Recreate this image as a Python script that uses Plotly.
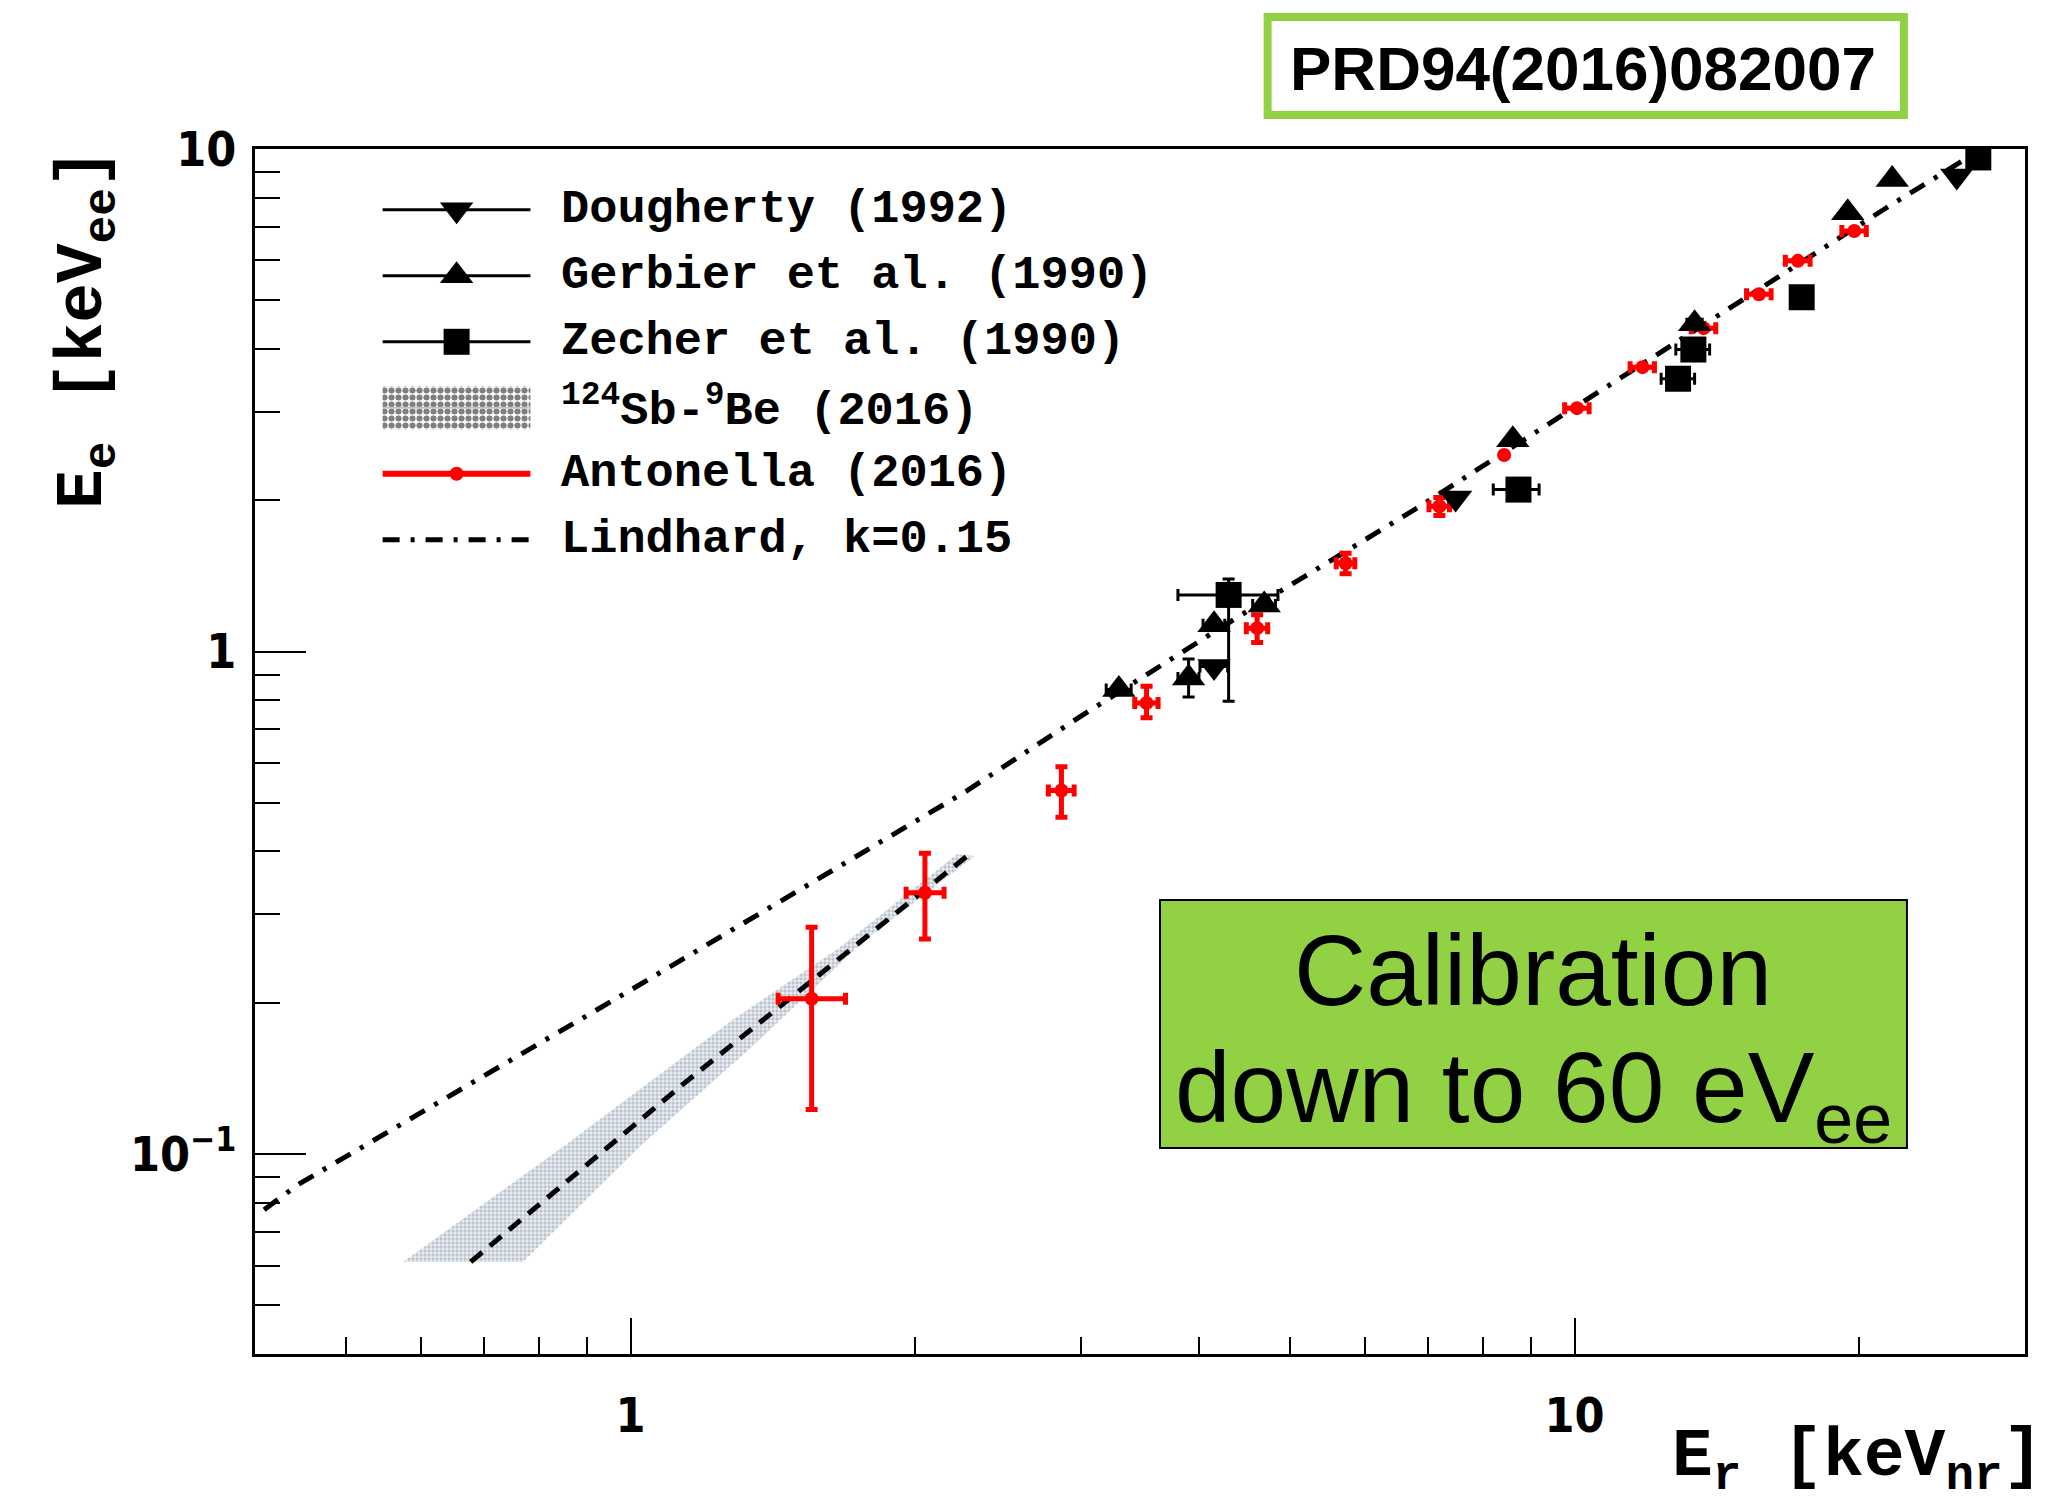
import plotly.graph_objects as go
import math

# ---------------- data ----------------
# Dougherty (1992)  - down triangles
dou_x = [4.15, 7.48, 25.4]
dou_y = [0.934, 2.02, 8.84]
dou_xerr = [0.14, 0.0, 0.0]

# Gerbier et al. (1990) - up triangles
ger_x = [3.29, 3.90, 4.15, 4.69, 8.6, 13.4, 19.47, 21.7]
ger_y = [0.840, 0.886, 1.13, 1.238, 2.64, 4.49, 7.47, 8.70]
ger_xerr = [0.10, 0.10, 0.11, 0.13, 0.0, 0.25, 0.0, 0.0]
ger_yerr_plus = [0.0, 0.080, 0.0, 0.0, 0.0, 0.0, 0.0, 0.0]
ger_yerr_minus = [0.0, 0.074, 0.0, 0.0, 0.0, 0.0, 0.0, 0.0]

# Zecher et al. (1990) - squares
zec_x = [4.30, 8.72, 12.87, 13.36, 17.4, 26.77]
zec_y = [1.296, 2.10, 3.49, 3.99, 5.07, 9.62]
zec_xerr_plus = [0.55, 0.45, 0.53, 0.54, 0.0, 0.0]
zec_xerr_minus = [0.50, 0.52, 0.52, 0.56, 0.0, 0.0]
zec_yerr_plus = [0.098, 0.0, 0.0, 0.0, 0.0, 0.0]
zec_yerr_minus = [0.50, 0.0, 0.0, 0.0, 0.0, 0.0]

# Antonella (2016) - red points
ant_x = [1.555, 2.05, 2.86, 3.52, 4.61, 5.72, 7.19, 8.42, 10.06, 11.8, 13.7, 15.68, 17.24, 19.78]
ant_y = [0.2037, 0.331, 0.529, 0.790, 1.113, 1.498, 1.946, 2.46, 3.05, 3.68, 4.40, 5.14, 5.99, 6.87]
ant_xerr_plus = [0.134, 0.098, 0.09, 0.10, 0.12, 0.13, 0.18, 0.0, 0.30, 0.35, 0.41, 0.47, 0.52, 0.59]
ant_xerr_minus = [0.122, 0.092, 0.09, 0.10, 0.12, 0.13, 0.18, 0.0, 0.30, 0.35, 0.41, 0.47, 0.52, 0.59]
ant_yerr_plus = [0.079, 0.066, 0.061, 0.063, 0.070, 0.07, 0.08, 0.0, 0.0, 0.0, 0.0, 0.0, 0.0, 0.0]
ant_yerr_minus = [0.081, 0.063, 0.061, 0.052, 0.071, 0.07, 0.08, 0.0, 0.0, 0.0, 0.0, 0.0, 0.0, 0.0]

# Lindhard, k=0.15 curve
lin_x = [0.409, 0.445, 1.0, 2.27, 2.96, 4.38, 6.80, 9.51, 21.4, 27.0]
lin_y = [0.0775, 0.0871, 0.212, 0.528, 0.732, 1.166, 1.926, 2.88, 7.64, 10.0]

# 124Sb-9Be (2016) band: upper/left edge, lower/right edge and central line
band_up_x = [0.574, 0.850, 1.281, 1.664, 2.217]
band_up_y = [0.061, 0.1037, 0.1846, 0.2573, 0.395]
band_lo_x = [0.769, 1.024, 1.33, 1.771, 2.315]
band_lo_y = [0.061, 0.1037, 0.1605, 0.2666, 0.392]
cen_x = [0.677, 1.146, 2.273]
cen_y = [0.061, 0.1395, 0.392]

# axis ranges and ticks
x_range = [0.4, 30.0]
y_range = [0.04, 10.0]
x_tickvals = [1, 10]
x_ticktext = ["1", "10"]
x_minor = [0.5, 0.6, 0.7, 0.8, 0.9, 2, 3, 4, 5, 6, 7, 8, 9, 20]
y_tickvals = [0.1, 1, 10]
y_ticktext = ["10<sup>\u22121</sup>", "1", "10"]
y_minor = [0.05, 0.06, 0.07, 0.08, 0.09, 0.2, 0.3, 0.4, 0.5, 0.6, 0.7, 0.8, 0.9,
           2, 3, 4, 5, 6, 7, 8, 9]

legend_labels = ["Dougherty (1992)", "Gerbier et al. (1990)", "Zecher et al. (1990)",
                 "<sup>124</sup>Sb-<sup>9</sup>Be (2016)", "Antonella (2016)",
                 "Lindhard, k=0.15"]

# ---------------- styling ----------------
MONO = "Liberation Mono"
SANS = "Liberation Sans"
TICKF = "DejaVu Sans Condensed, DejaVu Sans"
GREEN = "#92D143"
TRI = 29

fig = go.Figure()

# band
band_x = band_up_x + band_lo_x[::-1]
band_y = band_up_y + band_lo_y[::-1]
fig.add_trace(go.Scatter(
    x=band_x, y=band_y, mode="lines", fill="toself",
    line=dict(width=0, color="rgba(0,0,0,0)"),
    fillcolor="rgba(255,255,255,0)",
    fillpattern=dict(shape=".", fgcolor="#8797a9", bgcolor="#eef1f4",
                     size=4, solidity=0.55),
    showlegend=False, hoverinfo="skip"))
fig.add_trace(go.Scatter(
    x=cen_x, y=cen_y, mode="lines",
    line=dict(color="black", width=5, dash="15px,10px"),
    showlegend=False, hoverinfo="skip"))

# Lindhard
fig.add_trace(go.Scatter(
    x=lin_x, y=lin_y, mode="lines",
    line=dict(color="black", width=5, dash="17px,11px,4px,11px"),
    showlegend=False))

# Antonella
fig.add_trace(go.Scatter(
    x=ant_x, y=ant_y, mode="markers",
    marker=dict(symbol="circle", size=14, color="red"),
    error_x=dict(type="data", symmetric=False, array=ant_xerr_plus,
                 arrayminus=ant_xerr_minus, color="red", thickness=5, width=6),
    error_y=dict(type="data", symmetric=False, array=ant_yerr_plus,
                 arrayminus=ant_yerr_minus, color="red", thickness=5, width=6),
    showlegend=False))

# Gerbier
fig.add_trace(go.Scatter(
    x=ger_x, y=ger_y, mode="markers",
    marker=dict(symbol="triangle-up", size=TRI, color="black"),
    error_x=dict(type="data", array=ger_xerr, color="black", thickness=3, width=6),
    error_y=dict(type="data", symmetric=False, array=ger_yerr_plus,
                 arrayminus=ger_yerr_minus, color="black", thickness=3, width=6),
    showlegend=False))

# Dougherty
fig.add_trace(go.Scatter(
    x=dou_x, y=dou_y, mode="markers",
    marker=dict(symbol="triangle-down", size=TRI, color="black"),
    error_x=dict(type="data", array=dou_xerr, color="black", thickness=3, width=6),
    showlegend=False))

# Zecher
fig.add_trace(go.Scatter(
    x=zec_x, y=zec_y, mode="markers",
    marker=dict(symbol="square", size=26, color="black"),
    error_x=dict(type="data", symmetric=False, array=zec_xerr_plus,
                 arrayminus=zec_xerr_minus, color="black", thickness=3, width=6),
    error_y=dict(type="data", symmetric=False, array=zec_yerr_plus,
                 arrayminus=zec_yerr_minus, color="black", thickness=3, width=6),
    showlegend=False))

# ---------------- legend (drawn on an invisible overlay axis) ----------------
rows = [0.9496, 0.8948, 0.840, 0.7853, 0.7305, 0.6758]
lx0, lxc, lx1 = 0.0721, 0.1139, 0.1556
text_x = 0.172

def leg_line(row, color, width, dash="solid"):
    fig.add_trace(go.Scatter(x=[lx0, lx1], y=[row, row], xaxis="x2", yaxis="y2",
                             mode="lines", line=dict(color=color, width=width, dash=dash),
                             showlegend=False, hoverinfo="skip"))

def leg_marker(row, symbol, size, color):
    fig.add_trace(go.Scatter(x=[lxc], y=[row], xaxis="x2", yaxis="y2", mode="markers",
                             marker=dict(symbol=symbol, size=size, color=color),
                             showlegend=False, hoverinfo="skip"))

leg_line(rows[0], "black", 3); leg_marker(rows[0], "triangle-down", TRI, "black")
leg_line(rows[1], "black", 3); leg_marker(rows[1], "triangle-up", TRI, "black")
leg_line(rows[2], "black", 3); leg_marker(rows[2], "square", 26, "black")
# pattern box
bh = 0.0181
fig.add_trace(go.Scatter(
    x=[lx0, lx1, lx1, lx0, lx0], y=[rows[3] + bh, rows[3] + bh, rows[3] - bh, rows[3] - bh, rows[3] + bh],
    xaxis="x2", yaxis="y2", mode="lines", fill="toself",
    line=dict(width=0, color="rgba(0,0,0,0)"), fillcolor="rgba(255,255,255,0)",
    fillpattern=dict(shape=".", fgcolor="black", bgcolor="white", size=7, solidity=0.6),
    showlegend=False, hoverinfo="skip"))
leg_line(rows[3], "#b8c4d0", 2)
leg_line(rows[4], "red", 6); leg_marker(rows[4], "circle", 14, "red")
leg_line(rows[5], "black", 5, dash="17px,11px,4px,11px")

annotations = []
for lab, r in zip(legend_labels, rows):
    annotations.append(dict(x=text_x, y=r, xref="paper", yref="paper", text=lab,
                            showarrow=False, xanchor="left", yanchor="middle",
                            font=dict(family=MONO, size=47, color="black", weight="bold")))

# axis titles
annotations.append(dict(x=-0.095, y=0.8506, xref="paper", yref="paper",
                        text="E<sub>e</sub>\u00a0[keV<sub>ee</sub>]", textangle=-90,
                        showarrow=False, xanchor="center", yanchor="middle",
                        font=dict(family=MONO, size=66, color="black", weight="bold")))
annotations.append(dict(x=1.0113, y=-0.088, xref="paper", yref="paper",
                        text="E<sub>r</sub>\u00a0[keV<sub>nr</sub>]",
                        showarrow=False, xanchor="right", yanchor="middle",
                        font=dict(family=MONO, size=68, color="black", weight="bold")))

# PRD label
annotations.append(dict(x=0.7505, y=1.0667, xref="paper", yref="paper",
                        text="PRD94(2016)082007", showarrow=False,
                        xanchor="center", yanchor="middle",
                        font=dict(family=SANS, size=62, color="black", weight="bold")))
# Calibration box text
annotations.append(dict(x=0.7223, y=0.3187, xref="paper", yref="paper",
                        text="Calibration", showarrow=False,
                        xanchor="center", yanchor="middle",
                        font=dict(family=SANS, size=100, color="black")))
annotations.append(dict(x=0.7223, y=0.215, xref="paper", yref="paper",
                        text="down to 60 eV<sub>ee</sub>", showarrow=False,
                        xanchor="center", yanchor="middle",
                        font=dict(family=SANS, size=100, color="black")))

shapes = [
    dict(type="rect", xref="paper", yref="paper", x0=0.5721, x1=0.9316,
         y0=1.0282, y1=1.1096, line=dict(color=GREEN, width=8), fillcolor="white",
         layer="below"),
    dict(type="rect", xref="paper", yref="paper", x0=0.5113, x1=0.9333,
         y0=0.171, y1=0.3768, line=dict(color="black", width=2), fillcolor=GREEN,
         layer="above"),
]

axis_common = dict(showgrid=False, zeroline=False, showline=True, linecolor="black",
                   linewidth=3, mirror=True, ticks="inside", tickcolor="black",
                   tickwidth=2)

fig.update_layout(
    width=2069, height=1502,
    margin=dict(l=255, r=44, t=149, b=148),
    paper_bgcolor="white", plot_bgcolor="white",
    showlegend=False,
    annotations=annotations, shapes=shapes,
    xaxis=dict(type="log", range=[math.log10(x_range[0]), math.log10(x_range[1])],
               tickmode="array", tickvals=x_tickvals, ticktext=x_ticktext,
               ticklen=36, ticklabelstandoff=17,
               tickfont=dict(family=TICKF, size=48, color="black", weight="bold"),
               minor=dict(tickmode="array", tickvals=x_minor, ticks="inside",
                          ticklen=17, tickwidth=2, tickcolor="black", showgrid=False),
               **axis_common),
    yaxis=dict(type="log", range=[math.log10(y_range[0]), math.log10(y_range[1])],
               tickmode="array", tickvals=y_tickvals, ticktext=y_ticktext,
               ticklen=51, ticklabelstandoff=6,
               tickfont=dict(family=TICKF, size=48, color="black", weight="bold"),
               minor=dict(tickmode="array", tickvals=y_minor, ticks="inside",
                          ticklen=25, tickwidth=2, tickcolor="black", showgrid=False),
               **axis_common),
    xaxis2=dict(overlaying="x", range=[0, 1], visible=False, fixedrange=True),
    yaxis2=dict(overlaying="y", range=[0, 1], visible=False, fixedrange=True),
)

fig.write_html("out.html")
